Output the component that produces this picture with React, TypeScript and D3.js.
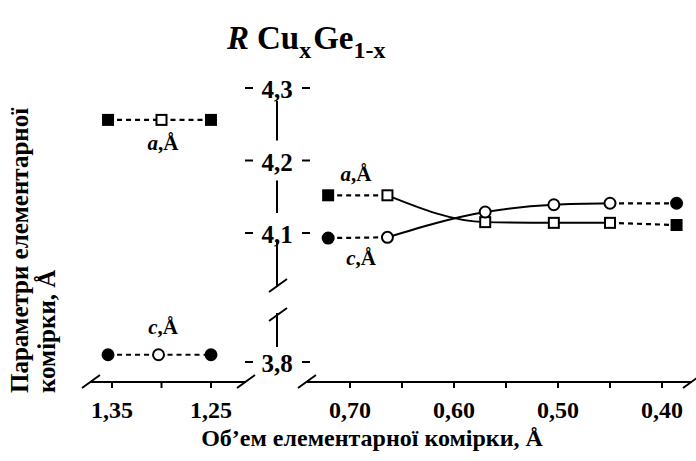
import React, { useEffect, useRef } from "react";
import * as d3 from "d3";

// Left panel (large volume side)
const leftAVolume = [1.354, 1.3, 1.25];
const leftA = [4.256, 4.256, 4.256];
const leftCVolume = [1.354, 1.303, 1.25];
const leftC = [3.81, 3.81, 3.81];
const leftFilled = [true, false, true];

// Right panel
const rightVolume = [0.721, 0.664, 0.57, 0.504, 0.45, 0.386];
const rightA = [4.152, 4.152, 4.115, 4.114, 4.114, 4.111];
const rightC = [4.093, 4.094, 4.129, 4.139, 4.141, 4.141];
const rightFilled = [true, false, false, false, false, true];

// Ticks
const leftTicks = [1.35, 1.3, 1.25];
const leftTickLabels = [1.35, 1.25];
const rightTicks = [0.7, 0.65, 0.6, 0.55, 0.5, 0.45, 0.4];
const rightTickLabels = [0.7, 0.6, 0.5, 0.4];
const yUpperTicks = [4.3, 4.2, 4.1];
const yLowerTicks = [3.8];

const FONT = "Liberation Serif, DejaVu Serif, serif";

const App = () => {
  const ref = useRef<SVGSVGElement>(null);

  useEffect(() => {
    const width = 696;
    const height = 461;
    const axisY = 382;
    const yAxisX = 277;

    const svg = d3.select(ref.current);
    svg.selectAll("*").remove();

    // scales
    const xLeft = d3.scaleLinear().domain([1.35, 1.25]).range([112, 211]);
    const xRight = d3.scaleLinear().domain([0.7, 0.4]).range([350, 662]);
    const yUpper = d3.scaleLinear().domain([4.3, 4.1]).range([88, 233]);
    const yLower = d3.scaleLinear().domain([3.8, 3.9]).range([362, 289.5]);
    const y = (v: number) => (v > 3.95 ? yUpper(v) : yLower(v));
    const fmt = (f: string) => (v: number) => d3.format(f)(v).replace(".", ",");

    const g = svg.append("g").style("font-family", FONT);

    // x axes
    const drawSlash = (cx: number, cy: number) =>
      g
        .append("line")
        .attr("x1", cx - 9)
        .attr("y1", cy + 6)
        .attr("x2", cx + 9)
        .attr("y2", cy - 7)
        .attr("stroke", "#000")
        .attr("stroke-width", 2);

    g.append("line")
      .attr("x1", 90)
      .attr("x2", 246)
      .attr("y1", axisY)
      .attr("y2", axisY)
      .attr("stroke", "#000")
      .attr("stroke-width", 2);
    drawSlash(91, axisY);
    drawSlash(246, axisY);

    g.append("line")
      .attr("x1", 307)
      .attr("x2", 692)
      .attr("y1", axisY)
      .attr("y2", axisY)
      .attr("stroke", "#000")
      .attr("stroke-width", 2);
    drawSlash(307, axisY);
    drawSlash(692, axisY);

    const tickRow = (scale: d3.ScaleLinear<number, number>, ticks: number[], labels: number[]) => {
      g.selectAll(null)
        .data(ticks)
        .join("line")
        .attr("x1", (d) => scale(d))
        .attr("x2", (d) => scale(d))
        .attr("y1", axisY)
        .attr("y2", axisY + 6)
        .attr("stroke", "#000")
        .attr("stroke-width", 2);
      g.selectAll(null)
        .data(labels)
        .join("text")
        .attr("x", (d) => scale(d))
        .attr("y", 418)
        .attr("text-anchor", "middle")
        .attr("font-size", 24)
        .attr("font-weight", "bold")
        .text(fmt(".2f"));
    };
    tickRow(xLeft, leftTicks, leftTickLabels);
    tickRow(xRight, rightTicks, rightTickLabels);

    // y axis with break
    const yTicks = [...yUpperTicks, ...yLowerTicks];
    yTicks.forEach((t) => {
      const ty = y(t);
      g.append("line").attr("x1", 245).attr("x2", 253).attr("y1", ty).attr("y2", ty)
        .attr("stroke", "#000").attr("stroke-width", 2);
      g.append("line").attr("x1", 302).attr("x2", 310).attr("y1", ty).attr("y2", ty)
        .attr("stroke", "#000").attr("stroke-width", 2);
      g.append("text")
        .attr("x", yAxisX)
        .attr("y", ty + 10)
        .attr("text-anchor", "middle")
        .attr("font-size", 25)
        .attr("font-weight", "bold")
        .text(fmt(".1f")(t));
    });
    const segs: [number, number][] = [
      [y(4.3) + 13, y(4.2) - 20],
      [y(4.2) + 20, y(4.1) - 20],
      [y(4.1) + 8, 287],
      [313, y(3.8) - 15],
    ];
    segs.forEach(([a, b]) =>
      g.append("line").attr("x1", yAxisX).attr("x2", yAxisX).attr("y1", a).attr("y2", b)
        .attr("stroke", "#000").attr("stroke-width", 2)
    );
    drawSlash(yAxisX + 1, 286);
    drawSlash(yAxisX + 1, 315);

    // series
    const drawSeries = (
      xs: number[],
      ys: number[],
      filled: boolean[],
      scale: d3.ScaleLinear<number, number>,
      shape: "square" | "circle"
    ) => {
      const pts = xs.map((v, i) => [scale(v), y(ys[i])] as [number, number]);
      // dashed links from filled markers
      for (let i = 0; i < pts.length - 1; i++) {
        if (filled[i] || filled[i + 1]) {
          g.append("line")
            .attr("x1", pts[i][0]).attr("y1", pts[i][1])
            .attr("x2", pts[i + 1][0]).attr("y2", pts[i + 1][1])
            .attr("stroke", "#000").attr("stroke-width", 2.2)
            .attr("stroke-dasharray", "5,4");
        }
      }
      // solid curve through open markers
      const open = pts.filter((_, i) => !filled[i]);
      if (open.length > 1) {
        g.append("path")
          .attr("d", d3.line().curve(d3.curveMonotoneX)(open))
          .attr("fill", "none")
          .attr("stroke", "#000")
          .attr("stroke-width", 2);
      }
      pts.forEach((p, i) => {
        const fill = filled[i] ? "#000" : "#fff";
        if (shape === "square") {
          g.append("rect")
            .attr("x", p[0] - 5).attr("y", p[1] - 5)
            .attr("width", 10).attr("height", 10)
            .attr("fill", fill).attr("stroke", "#000").attr("stroke-width", 2);
        } else {
          g.append("circle")
            .attr("cx", p[0]).attr("cy", p[1]).attr("r", 5.5)
            .attr("fill", fill).attr("stroke", "#000").attr("stroke-width", 2);
        }
      });
    };
    drawSeries(leftAVolume, leftA, leftFilled, xLeft, "square");
    drawSeries(leftCVolume, leftC, leftFilled, xLeft, "circle");
    drawSeries(rightVolume, rightA, rightFilled, xRight, "square");
    drawSeries(rightVolume, rightC, rightFilled, xRight, "circle");

    // series labels
    const seriesLabel = (x: number, yy: number, letter: string) => {
      const t = g.append("text").attr("x", x).attr("y", yy).attr("text-anchor", "middle")
        .attr("font-size", 21).attr("font-weight", "bold");
      t.append("tspan").attr("font-style", "italic").text(letter);
      t.append("tspan").text(",Å");
    };
    seriesLabel(163, 150, "a");
    seriesLabel(163, 334, "c");
    seriesLabel(356, 181, "a");
    seriesLabel(361, 265, "c");

    // title
    const title = g.append("text").attr("x", 227).attr("y", 49)
      .attr("font-size", 33).attr("font-weight", "bold");
    title.append("tspan").attr("font-style", "italic").text("R");
    title.append("tspan").attr("dx", 8).text("Cu");
    title.append("tspan").attr("font-size", 24).attr("dy", 9).text("x");
    title.append("tspan").attr("dx", 2).attr("dy", -9).text("Ge");
    title.append("tspan").attr("font-size", 24).attr("dy", 9).text("1-x");

    // axis titles
    g.append("text")
      .attr("x", 372).attr("y", 446)
      .attr("text-anchor", "middle")
      .attr("font-size", 24).attr("font-weight", "bold")
      .text("Об’ем елементарної комірки, Å");

    const yl = g.append("text")
      .attr("transform", "translate(0,393) rotate(-90)")
      .attr("font-size", 25).attr("font-weight", "bold");
    yl.append("tspan").attr("x", 0).attr("y", 28).text("Параметри елементарної");
    yl.append("tspan").attr("x", 0).attr("y", 55).text("комірки, Å");

    svg.attr("width", width).attr("height", height);
  }, []);

  return (
    <svg
      ref={ref}
      width={696}
      height={461}
      style={{ position: "absolute", left: 0, top: 0, background: "#fff" }}
    />
  );
};

export default App;
